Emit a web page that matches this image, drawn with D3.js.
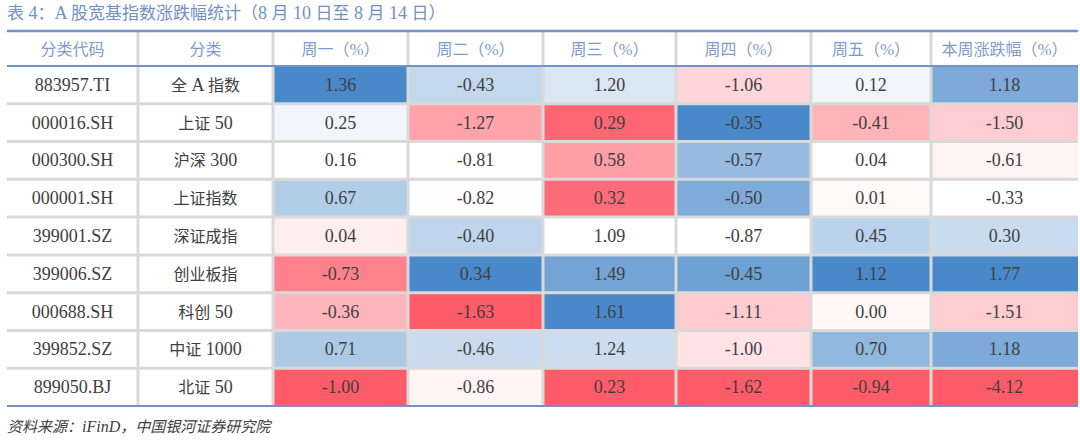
<!DOCTYPE html>
<html>
<head>
<meta charset="utf-8">
<script src="https://cdn.jsdelivr.net/npm/d3@7"></script>
<style>
  body { margin: 0; background: #fff; }
  svg { display: block; }
</style>
</head>
<body>
<svg id="chart" width="1080" height="440"></svg>
<script>
// ===================== DATA =====================
const title = '表 4：A 股宽基指数涨跌幅统计（8 月 10 日至 8 月 14 日）';
const source = '资料来源：iFinD，中国银河证券研究院';
const headers = ['分类代码', '分类', '周一（%）', '周二（%）', '周三（%）', '周四（%）', '周五（%）', '本周涨跌幅（%）'];

const codes = ['883957.TI', '000016.SH', '000300.SH', '000001.SH', '399001.SZ', '399006.SZ', '000688.SH', '399852.SZ', '899050.BJ'];
const names = ['全 A 指数', '上证 50', '沪深 300', '上证指数', '深证成指', '创业板指', '科创 50', '中证 1000', '北证 50'];
const mon  = [1.36, 0.25, 0.16, 0.67, 0.04, -0.73, -0.36, 0.71, -1.00];
const tue  = [-0.43, -1.27, -0.81, -0.82, -0.40, 0.34, -1.63, -0.46, -0.86];
const wed  = [1.20, 0.29, 0.58, 0.32, 1.09, 1.49, 1.61, 1.24, 0.23];
const thu  = [-1.06, -0.35, -0.57, -0.50, -0.87, -0.45, -1.11, -1.00, -1.62];
const fri  = [0.12, -0.41, 0.04, 0.01, 0.45, 1.12, 0.00, 0.70, -0.94];
const week = [1.18, -1.50, -0.61, -0.33, 0.30, 1.77, -1.51, 1.18, -4.12];

// ===================== LAYOUT =====================
const valueCols = [mon, tue, wed, thu, fri, week];
const colWidths = [131, 135, 135, 135, 133, 135, 120, 147];
const tblLeft = 7, tblTop = 31, headH = 35, tblBottom = 406;
const colEdges = [tblLeft];
colWidths.forEach(w => colEdges.push(colEdges[colEdges.length - 1] + w));
const tblRight = colEdges[colEdges.length - 1];

const RED = '#ff5b69', MID = '#ffffff', BLUE = '#4a89c9';
const GRID = '#d9d9d9', RULE = '#7292c9', HEAD = '#7d9bd0', INK = '#404040';
const FONT = '"Liberation Serif", "Noto Sans CJK SC", serif';

const svg = d3.select('#chart');
const y = d3.scaleBand().domain(d3.range(codes.length)).range([tblTop + headH, tblBottom]);

const isCJK = /[\u3000-\u303f\u4e00-\u9fff\uff00-\uffef]/;
function richText(sel, str, cjkSize, latinSize) {
  str.split(/([\u3000-\u303f\u4e00-\u9fff\uff00-\uffef]+)/).filter(s => s).forEach(p => {
    const cjk = isCJK.test(p);
    sel.append('tspan')
      .attr('font-family', cjk ? '"Noto Sans CJK SC", sans-serif' : FONT)
      .attr('font-size', cjk ? cjkSize : latinSize)
      .text(p);
  });
}

// title
richText(svg.append('text').attr('x', tblLeft).attr('y', 19).attr('fill', '#7090c8'), title, 17, 18);

// ===================== CELLS =====================
valueCols.forEach((vals, c) => {
  const color = d3.scaleLinear()
    .domain([d3.min(vals), d3.median(vals), d3.max(vals)])
    .range([RED, MID, BLUE])
    .interpolate(d3.interpolateRgb);
  const x0 = colEdges[c + 2], w = colWidths[c + 2];
  const g = svg.append('g');
  g.selectAll('rect').data(vals).join('rect')
    .attr('x', x0).attr('y', (d, i) => y(i))
    .attr('width', w).attr('height', y.bandwidth())
    .attr('fill', d => color(d));
  g.selectAll('text').data(vals).join('text')
    .attr('x', x0 + w / 2).attr('y', (d, i) => y(i) + y.bandwidth() / 2 + 6)
    .attr('text-anchor', 'middle')
    .attr('font-family', FONT).attr('font-size', 18).attr('fill', INK)
    .text(d => d.toFixed(2));
});

// code and name columns
svg.append('g').selectAll('text').data(codes).join('text')
  .attr('x', colEdges[0] + colWidths[0] / 2).attr('y', (d, i) => y(i) + y.bandwidth() / 2 + 6)
  .attr('text-anchor', 'middle')
  .attr('font-family', FONT).attr('font-size', 18).attr('fill', INK)
  .text(d => d);

svg.append('g').selectAll('text').data(names).join('text')
  .attr('x', colEdges[1] + colWidths[1] / 2).attr('y', (d, i) => y(i) + y.bandwidth() / 2 + 6)
  .attr('text-anchor', 'middle').attr('fill', INK)
  .each(function(d) { richText(d3.select(this), d, 16, 18); });

// header
svg.append('g').selectAll('text').data(headers).join('text')
  .attr('x', (d, i) => colEdges[i] + colWidths[i] / 2).attr('y', tblTop + headH / 2 + 6)
  .attr('text-anchor', 'middle').attr('fill', HEAD)
  .each(function(d) { richText(d3.select(this), d, 16, 17); });

// ===================== GRID =====================
svg.append('g').selectAll('line').data(colEdges.slice(1, -1)).join('line')
  .attr('x1', d => d).attr('x2', d => d).attr('y1', tblTop).attr('y2', tblBottom)
  .attr('stroke', GRID).attr('stroke-width', 3);

svg.append('g').selectAll('line').data(d3.range(1, codes.length)).join('line')
  .attr('x1', tblLeft).attr('x2', tblRight).attr('y1', i => y(i)).attr('y2', i => y(i))
  .attr('stroke', GRID).attr('stroke-width', 3);

svg.append('g').selectAll('line').data([[tblTop, 2.5], [tblTop + headH, 2], [tblBottom, 2]]).join('line')
  .attr('x1', tblLeft).attr('x2', tblRight).attr('y1', d => d[0]).attr('y2', d => d[0])
  .attr('stroke', RULE).attr('stroke-width', d => d[1]);

// source
richText(svg.append('text').attr('x', tblLeft).attr('y', 432).attr('fill', INK).attr('font-style', 'italic'), source, 15, 16);
</script>
</body>
</html>
